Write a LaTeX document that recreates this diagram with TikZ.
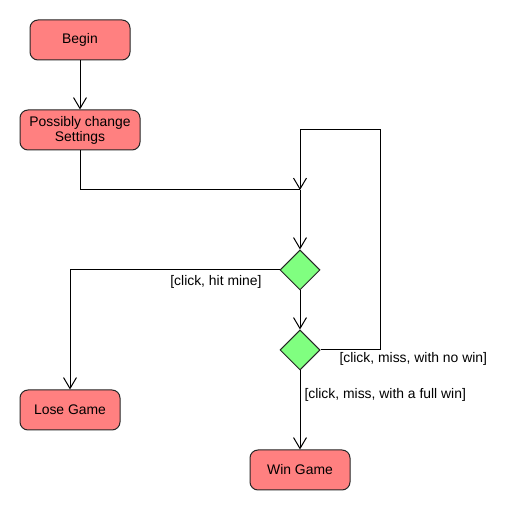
\documentclass[tikz,border=0pt]{standalone}
\usepackage{fontspec}
\setmainfont{Liberation Sans}
\usetikzlibrary{shapes.geometric,arrows.meta}
\definecolor{actfill}{HTML}{FF8080}
\definecolor{decfill}{HTML}{80FF80}
\tikzset{%
  act/.style={draw=black!85, rounded corners=8pt, fill=actfill, minimum width=100pt, minimum height=40pt, align=center, inner sep=2pt, font=\fontsize{13.9}{15}\selectfont},%
  dec/.style={draw=black!85, diamond, fill=decfill, minimum width=40pt, minimum height=40pt, inner sep=0pt},%
  flow/.style={-{Straight Barb[length=11pt,width=13pt]}},%
  guard/.style={font=\fontsize{13.9}{15}\selectfont, inner sep=0pt},%
}
\begin{document}
\begin{tikzpicture}[x=1pt, y=-1pt, line width=1pt]%
\useasboundingbox (0,0) rectangle (520,510);%
\node[act] (begin) at (80,40) {\raisebox{-1.5pt}{Begin}};%
\node[act, minimum width=120pt] (settings) at (80,130) {\raisebox{-1.5pt}{Possibly change}\\\raisebox{-1.5pt}{Settings}};%
\node[dec] (hit) at (300,270) {};%
\node[dec] (miss) at (300,350) {};%
\node[act] (lose) at (70,410) {\raisebox{-1.5pt}{Lose Game}};%
\node[act] (win) at (300,470) {\raisebox{-1.5pt}{Win Game}};%
\coordinate (merge) at (300,190);%
\coordinate (looptop) at (380,130);%
\draw[flow] (begin) -- (settings);%
\draw (settings.south) |- (merge);%
\draw[flow] (miss.east) -| (looptop) -| (merge);%
\draw[flow] (merge) -- (hit);%
\draw[flow] (hit.west) -| (lose);%
\draw[flow] (hit) -- (miss);%
\draw[flow] (miss) -- (win);%
\node[guard, anchor=east] (hitlbl) at (262,282) {[click, hit mine]};%
\node[guard, anchor=west] (nowinlbl) at (339,359) {[click, miss, with no win]};%
\node[guard, anchor=west] (fullwinlbl) at (304,395) {[click, miss, with a full win]};%
\end{tikzpicture}
\end{document}
